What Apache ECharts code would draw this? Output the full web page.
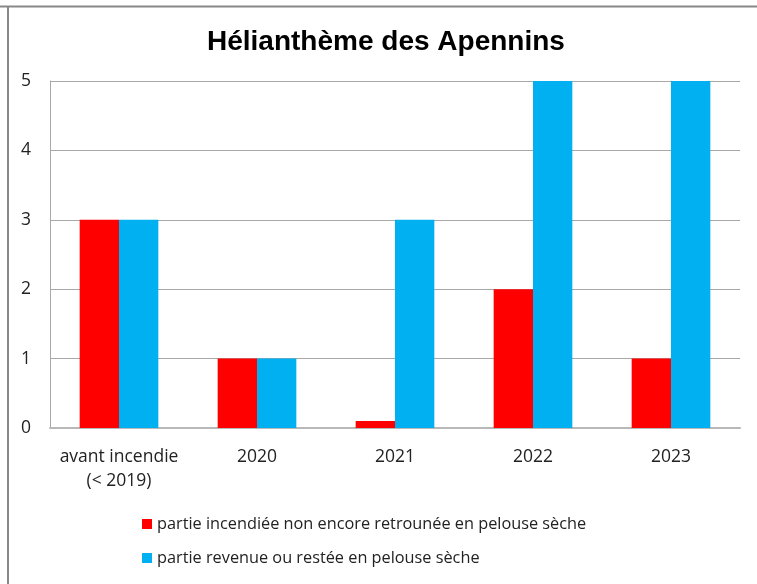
<!DOCTYPE html>
<html>
<head>
<meta charset="utf-8">
<script src="https://cdn.jsdelivr.net/npm/echarts@6/dist/echarts.min.js"></script>
<style>
  html, body { margin: 0; padding: 0; background: #fff; }
  #chart { width: 757px; height: 584px; }
</style>
</head>
<body>
<div id="chart"></div>
<script>
var categories = ['avant incendie\n(< 2019)', '2020', '2021', '2022', '2023'];
var burntValues = [3, 1, 0.1, 2, 1];
var recoveredValues = [3, 1, 3, 5, 5];
var seriesNames = ['partie incendiée non encore retrounée en pelouse sèche', 'partie revenue ou restée en pelouse sèche'];

var chart = echarts.init(document.getElementById('chart'));
var font = '"Open Sans", "Noto Sans", sans-serif';

var option = {
    animation: false,
    title: {
        text: 'Hélianthème des Apennins',
        left: 202,
        top: 23,
        textStyle: { fontFamily: 'Liberation Sans', fontWeight: 'bold', fontSize: 28, color: '#000' }
    },
    graphic: [
        { type: 'line', shape: { x1: 0, y1: 6.5, x2: 757, y2: 6.5 }, style: { stroke: '#888', lineWidth: 2 } },
        { type: 'line', shape: { x1: 8, y1: 6, x2: 8, y2: 584 }, style: { stroke: '#888', lineWidth: 2 } }
    ],
    legend: {
        orient: 'vertical',
        left: 142,
        top: 516,
        padding: 0,
        itemWidth: 10,
        itemHeight: 10,
        itemGap: 18,
        icon: 'rect',
        textStyle: { fontFamily: font, fontSize: 16.3, color: '#222', padding: [0, 0, 0, 0] },
        data: seriesNames
    },
    grid: { left: 50, right: 17, top: 81, bottom: 156 },
    xAxis: {
        type: 'category',
        data: categories,
        axisLine: { lineStyle: { color: '#b8b8b8', width: 2 } },
        axisTick: { show: false },
        axisLabel: { fontFamily: font, fontSize: 17.5, color: '#222', margin: 17, lineHeight: 24, interval: 0 }
    },
    yAxis: {
        type: 'value',
        min: 0,
        max: 5,
        interval: 1,
        axisLine: { show: true, lineStyle: { color: '#a8a8a8' } },
        axisTick: { show: false },
        splitLine: { lineStyle: { color: '#a8a8a8' } },
        axisLabel: { fontFamily: font, fontSize: 17.5, color: '#222', margin: 19 }
    },
    series: [
        {
            name: seriesNames[0],
            type: 'bar',
            data: burntValues,
            barGap: '0%',
            barCategoryGap: '43%',
            itemStyle: { color: '#ff0000' }
        },
        {
            name: seriesNames[1],
            type: 'bar',
            data: recoveredValues,
            barGap: '0%',
            barCategoryGap: '43%',
            itemStyle: { color: '#00b0f0' }
        }
    ]
};
chart.setOption(option);
</script>
</body>
</html>
